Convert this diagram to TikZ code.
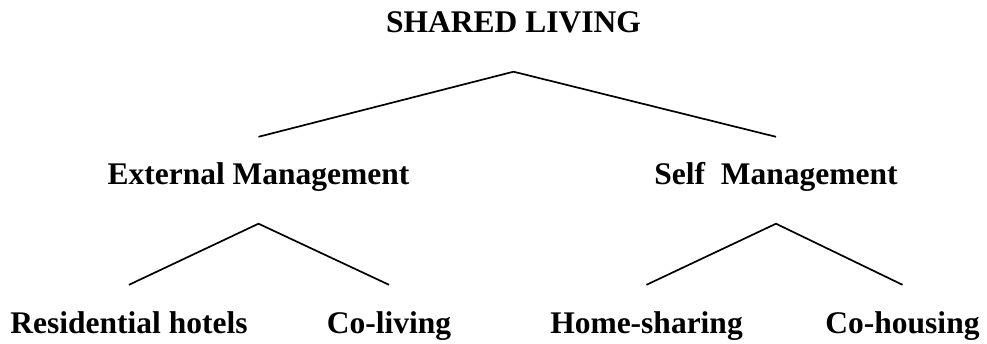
\documentclass[tikz,border=0pt]{standalone}
\usepackage{fontspec}
\setmainfont{Liberation Serif}

\tikzset{
	item/.style={anchor=base, inner sep=0pt, text height=48pt, text depth=38.5pt,
		font=\fontsize{31.5}{36}\selectfont\bfseries},
	branch/.style={line width=1.7pt}
}

\begin{document}
\begin{tikzpicture}[x=1pt,y=1pt]
		\useasboundingbox (0,0) rectangle (987,343);
		\node[item] (shared) at (513.5,310) {SHARED LIVING};
		\node[item] (ext) at (258.5,158) {External Management};
		\node[item] (self) at (776,158) {Self\hspace{0.25em} Management};
		\node[item] (hotels) at (129,10) {Residential hotels};
		\node[item] (coliving) at (389,10) {Co-living};
		\node[item] (homeshare) at (646.5,10) {Home-sharing};
		\node[item] (cohousing) at (902.5,10) {Co-housing};
		\draw[branch] (ext.north) -- (shared.south) -- (self.north);
		\draw[branch] (hotels.north) -- (ext.south) -- (coliving.north);
		\draw[branch] (homeshare.north) -- (self.south) -- (cohousing.north);
	\end{tikzpicture}
\end{document}
